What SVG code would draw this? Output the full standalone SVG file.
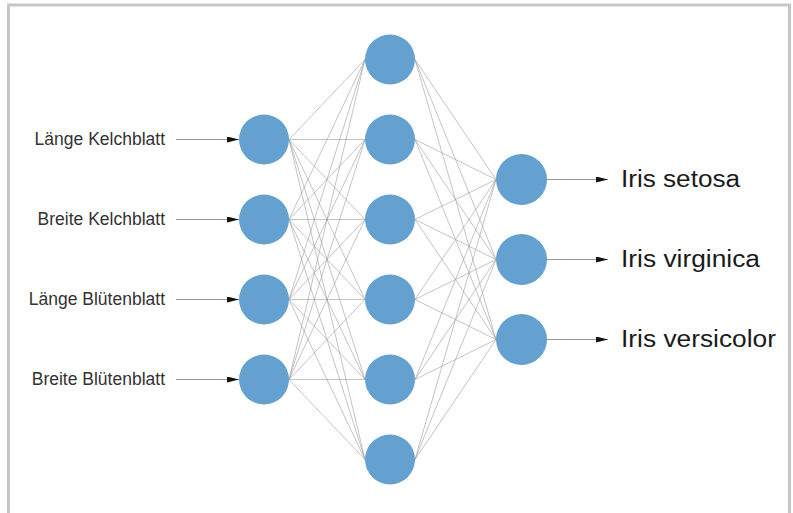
<svg xmlns="http://www.w3.org/2000/svg" width="793" height="513" viewBox="0 0 793 513">
<defs>
<marker id="ah" viewBox="0 0 12 6" refX="12" refY="3" markerWidth="12" markerHeight="6" markerUnits="userSpaceOnUse" orient="auto">
<path d="M0,0 L12,3 L0,6 Z" fill="#111"/>
</marker>
</defs>
<style>
.node{fill:#64a1d0}
.w{stroke:#9c9c9c;stroke-width:0.6;fill:none}
.arr{stroke:#999;stroke-width:1;fill:none;marker-end:url(#ah)}
.in{font-family:"Liberation Sans",Arial,sans-serif;font-size:17.5px;fill:#333;text-anchor:end}
.out{font-family:"Liberation Sans",Arial,sans-serif;font-size:23.5px;fill:#1a1a1a}
</style>
<rect x="0" y="0" width="793" height="513" fill="#fff"/>
<rect x="8.5" y="5" width="781" height="530" fill="#fff" stroke="#c3c7cc" stroke-width="3"/>
<g id="connectors">
<g class="w">
<path d="M289,139.5L365,59.5M289,139.5L365,139.5M289,139.5L365,219.5M289,139.5L365,299.5M289,139.5L365,379.5M289,139.5L365,459.5"/>
<path d="M289,219.5L365,59.5M289,219.5L365,139.5M289,219.5L365,219.5M289,219.5L365,299.5M289,219.5L365,379.5M289,219.5L365,459.5"/>
<path d="M289,299.5L365,59.5M289,299.5L365,139.5M289,299.5L365,219.5M289,299.5L365,299.5M289,299.5L365,379.5M289,299.5L365,459.5"/>
<path d="M289,379.5L365,59.5M289,379.5L365,139.5M289,379.5L365,219.5M289,379.5L365,299.5M289,379.5L365,379.5M289,379.5L365,459.5"/>
<path d="M415,59.5L496,179.5M415,59.5L496,259.5M415,59.5L496,339.5"/>
<path d="M415,139.5L496,179.5M415,139.5L496,259.5M415,139.5L496,339.5"/>
<path d="M415,219.5L496,179.5M415,219.5L496,259.5M415,219.5L496,339.5"/>
<path d="M415,299.5L496,179.5M415,299.5L496,259.5M415,299.5L496,339.5"/>
<path d="M415,379.5L496,179.5M415,379.5L496,259.5M415,379.5L496,339.5"/>
<path d="M415,459.5L496,179.5M415,459.5L496,259.5M415,459.5L496,339.5"/>
</g>
<line class="arr" x1="176" y1="139.5" x2="239" y2="139.5"/>
<line class="arr" x1="176" y1="219.5" x2="239" y2="219.5"/>
<line class="arr" x1="176" y1="299.5" x2="239" y2="299.5"/>
<line class="arr" x1="176" y1="379.5" x2="239" y2="379.5"/>
<line class="arr" x1="547" y1="179.5" x2="608" y2="179.5"/>
<line class="arr" x1="547" y1="259.5" x2="608" y2="259.5"/>
<line class="arr" x1="547" y1="339.5" x2="608" y2="339.5"/>
</g>
<g id="in1"><text class="in" x="165" y="145">Länge Kelchblatt</text><circle class="node" cx="264" cy="139.5" r="25"/></g>
<g id="in2"><text class="in" x="165" y="225">Breite Kelchblatt</text><circle class="node" cx="264" cy="219.5" r="25"/></g>
<g id="in3"><text class="in" x="165" y="305">Länge Blütenblatt</text><circle class="node" cx="264" cy="299.5" r="25"/></g>
<g id="in4"><text class="in" x="165" y="385">Breite Blütenblatt</text><circle class="node" cx="264" cy="379.5" r="25"/></g>
<g id="h1"><circle class="node" cx="390" cy="59.5" r="25"/></g>
<g id="h2"><circle class="node" cx="390" cy="139.5" r="25"/></g>
<g id="h3"><circle class="node" cx="390" cy="219.5" r="25"/></g>
<g id="h4"><circle class="node" cx="390" cy="299.5" r="25"/></g>
<g id="h5"><circle class="node" cx="390" cy="379.5" r="25"/></g>
<g id="h6"><circle class="node" cx="390" cy="459.5" r="25"/></g>
<g id="out1"><circle class="node" cx="521.5" cy="179.5" r="25.5"/><text class="out" x="621" y="187" textLength="119" lengthAdjust="spacingAndGlyphs">Iris setosa</text></g>
<g id="out2"><circle class="node" cx="521.5" cy="259.5" r="25.5"/><text class="out" x="621" y="267" textLength="139" lengthAdjust="spacingAndGlyphs">Iris virginica</text></g>
<g id="out3"><circle class="node" cx="521.5" cy="339.5" r="25.5"/><text class="out" x="621" y="347" textLength="155" lengthAdjust="spacingAndGlyphs">Iris versicolor</text></g>
</svg>
